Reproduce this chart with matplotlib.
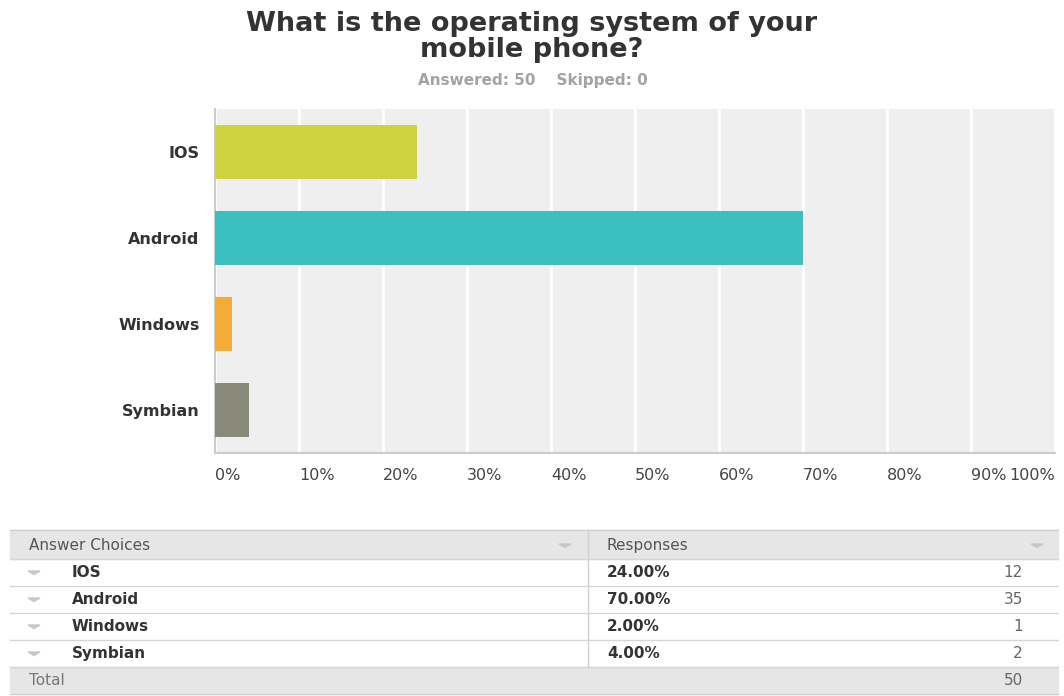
import matplotlib.pyplot as plt
from matplotlib.patches import Rectangle, Polygon

plt.rcParams['font.family'] = ['DejaVu Sans']

# data
choices = ['IOS', 'Android', 'Windows', 'Symbian']
percents = [24.0, 70.0, 2.0, 4.0]
counts = [12, 35, 1, 2]
colors = ['#cfd33f', '#3cbfbf', '#f6ac37', '#8a8a7a']
ticks = [0, 10, 20, 30, 40, 50, 60, 70, 80, 90, 100]
answered = 50
skipped = 0

W, H = 1064, 696
fig = plt.figure(figsize=(W / 100, H / 100), dpi=100)


def px(x0, y0, x1, y1):
    return [x0 / W, 1 - y1 / H, (x1 - x0) / W, (y1 - y0) / H]


# title
fig.text(532 / W, 1 - 37 / H, 'What is the operating system of your\nmobile phone?',
         ha='center', va='center', fontsize=19.5, fontweight='bold', color='#333333',
         linespacing=1.0)
fig.text(533 / W, 1 - 80 / H, f'Answered: {answered}    Skipped: {skipped}',
         ha='center', va='center', fontsize=11, fontweight='bold', color='#a3a3a3')

# bar chart
ax = fig.add_axes(px(215, 109, 1055, 453))
ax.set_facecolor('#efefef')
ypos = list(range(len(choices)))
ax.barh(ypos, percents, height=0.62, color=colors, zorder=3)
ax.set_xlim(0, 100)
ax.set_ylim(len(choices) - 0.5, -0.5)
ax.set_xticks(ticks)
ax.set_xticklabels([f'{t}%' for t in ticks])
for lbl, t in zip(ax.get_xticklabels(), ticks):
    lbl.set_horizontalalignment('right' if t == 100 else 'left')
ax.tick_params(axis='x', length=0, pad=11, labelsize=11.5, labelcolor='#444444')
ax.set_yticks(ypos)
ax.set_yticklabels(choices, fontweight='bold')
ax.tick_params(axis='y', length=0, pad=11, labelsize=11.5, labelcolor='#333333')
ax.grid(axis='x', color='white', linewidth=2, zorder=1)
for s in ['top', 'right']:
    ax.spines[s].set_visible(False)
ax.spines['left'].set_color('#cccccc')
ax.spines['bottom'].set_color('#cccccc')
ax.spines['left'].set_linewidth(1.5)
ax.spines['bottom'].set_linewidth(1.5)

# summary table
tx = fig.add_axes([0, 0, 1, 1])
tx.set_xlim(0, W)
tx.set_ylim(H, 0)
tx.axis('off')

left, mid, right = 10, 588, 1058
top, hdr_h, row_h = 530, 29, 27
tx.add_patch(Rectangle((left, top), right - left, hdr_h, color='#e6e6e6', zorder=1))
tot_y = top + hdr_h + row_h * len(choices)
tx.add_patch(Rectangle((left, tot_y), right - left, row_h, color='#e6e6e6', zorder=1))
tx.plot([left, right], [top, top], color='#d0d0d0', lw=1)
tx.plot([left, right], [tot_y + row_h, tot_y + row_h], color='#d0d0d0', lw=1)
for i in range(len(choices) + 1):
    y = top + hdr_h + row_h * i
    tx.plot([left, right], [y, y], color='#d6d6d6', lw=1)
tx.plot([mid, mid], [top, tot_y], color='#d0d0d0', lw=1)


def arrow(x, y, c='#c8c8c8'):
    tx.add_patch(Polygon([[x - 6, y - 1.5], [x + 6, y - 1.5], [x, y + 2]], closed=True,
                         color=c, zorder=3))


fs = 11
hy = top + hdr_h / 2 + 1
tx.text(29, hy, 'Answer Choices', va='center', fontsize=fs, color='#555555')
tx.text(607, hy, 'Responses', va='center', fontsize=fs, color='#555555')
arrow(565, hy)
arrow(1037, hy)

for i, (c, p, n) in enumerate(zip(choices, percents, counts)):
    y = top + hdr_h + row_h * i + row_h / 2
    arrow(34, y)
    tx.text(72, y, c, va='center', fontsize=fs, fontweight='bold', color='#333333')
    tx.text(607, y, f'{p:.2f}%', va='center', fontsize=fs, fontweight='bold', color='#333333')
    tx.text(1023, y, str(n), va='center', ha='right', fontsize=fs, color='#666666')

ty = tot_y + row_h / 2
tx.text(29, ty, 'Total', va='center', fontsize=fs, color='#777777')
tx.text(1023, ty, str(sum(counts)), va='center', ha='right', fontsize=fs, color='#666666')

fig.savefig('out.png', dpi=100)
